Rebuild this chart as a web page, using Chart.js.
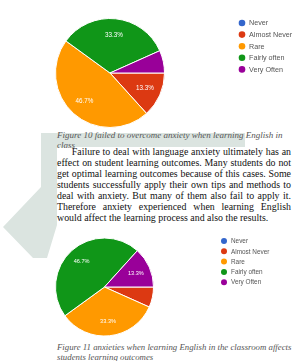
<!DOCTYPE html>
<html>
<head>
<meta charset="utf-8">
<script src="https://cdn.jsdelivr.net/npm/chart.js@4/dist/chart.umd.min.js"></script>
<style>
  html, body { margin: 0; padding: 0; background: #fff; }
  body { width: 296px; height: 361px; position: relative; overflow: hidden; }
  .wm { position: absolute; left: 0; top: 0; width: 296px; height: 361px; background: #dbe4e0;
        clip-path: polygon(41px 133px, 245px 133px, 245px 147px, 57px 147px, 57px 225px, 47px 258px, 33px 258px, 3px 227px, 41px 187px); }
  canvas { position: absolute; left: 0; }
  .cap { position: absolute; left: 57px; width: 240px; font-family: "Liberation Serif", serif; font-style: italic;
         font-size: 9px; line-height: 10px; color: #555; }
  .para { position: absolute; left: 57px; top: 146px; width: 234px; font-family: "Liberation Serif", serif;
          font-size: 9.9px; line-height: 11px; color: #111; text-align: justify; text-align-last: left; }
</style>
</head>
<body>
<div class="wm"></div>
<canvas id="pie1" width="296" height="130" style="top:0px"></canvas>
<div class="cap" style="top:130px">Figure 10 failed to overcome anxiety when learning English in class</div>
<div class="para">&emsp;&ensp;Failure to deal with language anxiety ultimately has an effect on student learning outcomes. Many students do not get optimal learning outcomes because of this cases. Some students successfully apply their own tips and methods to deal with anxiety. But many of them also fail to apply it. Therefore anxiety experienced when learning English would affect the learning process and also the results.</div>
<canvas id="pie2" width="296" height="110" style="top:230px"></canvas>
<div class="cap" style="top:342px; font-size:8.8px">Figure 11 anxieties when learning English in the classroom affects students learning outcomes</div>
<script>
const categories = ['Never', 'Almost Never', 'Rare', 'Fairly often', 'Very Often'];
const colors = ['#3366cc', '#dc3912', '#ff9900', '#109618', '#990099'];
const fig10Values = [0, 13.3, 46.7, 33.3, 6.7];
const fig11Values = [0, 6.7, 33.3, 46.7, 13.3];

// percent labels inside slices + legend on the right
const sliceLabels = {
  id: 'sliceLabels',
  afterDatasetsDraw(chart, args, opts) {
    const ctx = chart.ctx;
    const ds = chart.data.datasets[0];
    const total = ds.data.reduce((a, b) => a + b, 0);
    ctx.save();
    ctx.fillStyle = '#fff';
    ctx.font = opts.labelSize + 'px "Liberation Sans", Arial, sans-serif';
    ctx.textAlign = 'center';
    ctx.textBaseline = 'middle';
    chart.getDatasetMeta(0).data.forEach((arc, i) => {
      const v = ds.data[i];
      if (v / total < 0.1) return;
      const p = arc.getProps(['x', 'y', 'startAngle', 'endAngle', 'outerRadius'], true);
      const mid = (p.startAngle + p.endAngle) / 2;
      const r = p.outerRadius * 0.7;
      ctx.fillText(v.toFixed(1) + '%', p.x + Math.cos(mid) * r, p.y + Math.sin(mid) * r);
    });
    // legend
    ctx.textAlign = 'left';
    ctx.font = opts.legendSize + 'px "Liberation Sans", Arial, sans-serif';
    chart.data.labels.forEach((lab, i) => {
      const y = opts.legendY + i * opts.legendGap;
      ctx.fillStyle = ds.backgroundColor[i];
      ctx.beginPath();
      ctx.arc(opts.legendX, y, opts.dot, 0, Math.PI * 2);
      ctx.fill();
      ctx.fillStyle = '#555';
      ctx.fillText(lab, opts.legendX + 7, y + 0.5);
    });
    ctx.restore();
  }
};

function makePie(id, values, padding, labelOpts) {
  return new Chart(document.getElementById(id), {
    type: 'pie',
    data: {
      labels: categories,
      datasets: [{
        data: values,
        backgroundColor: colors,
        borderColor: '#fff',
        borderWidth: 1
      }]
    },
    options: {
      responsive: false,
      animation: false,
      rotation: 90,
      layout: { padding: padding },
      plugins: {
        legend: { display: false },
        tooltip: { enabled: false },
        sliceLabels: labelOpts
      }
    },
    plugins: [sliceLabels]
  });
}

makePie('pie1', fig10Values, { left: 55, right: 131, top: 18, bottom: 2 },
  { labelSize: 6.3, legendSize: 7.2, legendX: 242, legendY: 23, legendGap: 11.6, dot: 3.3 });
makePie('pie2', fig11Values, { left: 55, right: 142, top: 7, bottom: 3 },
  { labelSize: 5.6, legendSize: 6.4, legendX: 224, legendY: 11, legendGap: 10.3, dot: 3 });
</script>
</body>
</html>
